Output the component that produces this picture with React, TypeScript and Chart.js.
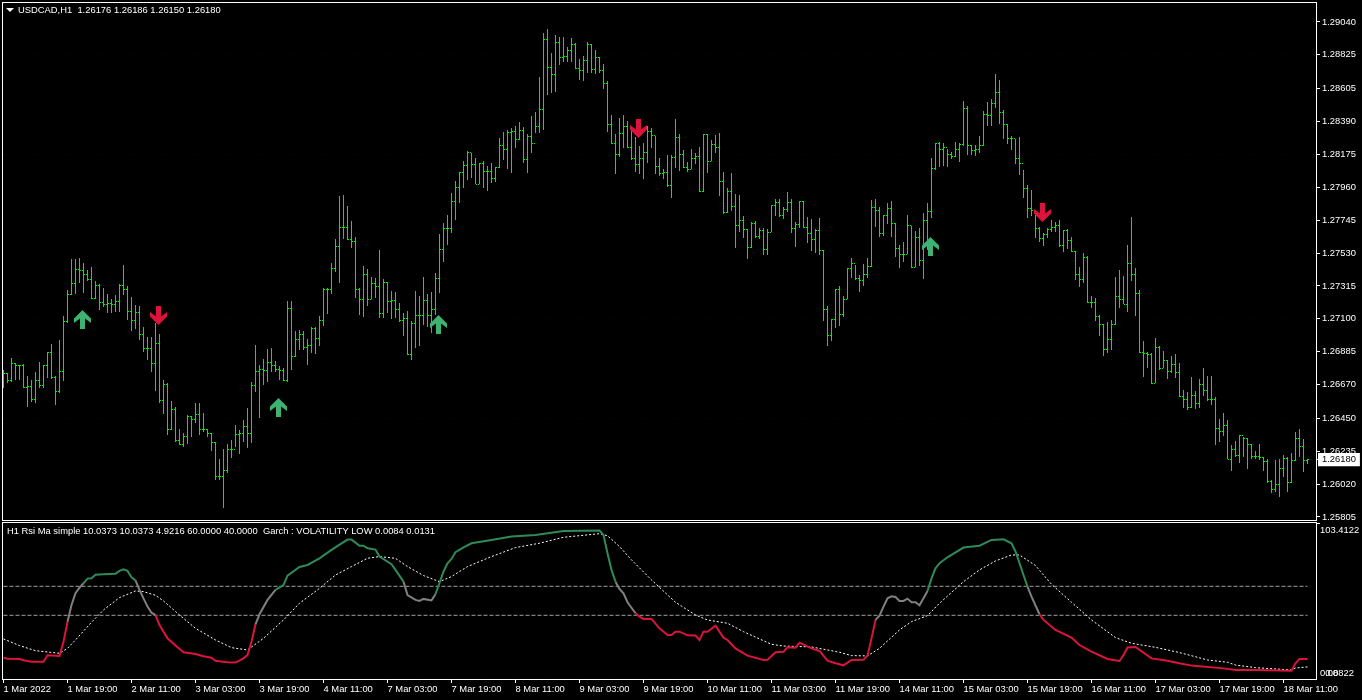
import React, { useEffect, useRef } from "react";
import { Chart, registerables } from "chart.js";

Chart.register(...registerables);

// USDCAD H1 prices, in points (0.00001) above 1.25000, read bar by bar
const PRICE_BASE = 1.25;
const POINT = 0.00001;
const firstOpen = 1750;
const lastBarOpen = 1176;

const highs = [1766,1744,1842,1809,1799,1805,1727,1701,1755,1816,1799,1886,1934,1727,1962,2119,2289,2491,2491,2496,2463,2419,2437,2347,2326,2304,2260,2230,2256,2328,2452,2315,2245,2191,2184,2045,1979,1979,2071,2001,1701,1679,1563,1522,1380,1354,1472,1468,1548,1550,1483,1380,1352,1293,1182,1250,1280,1309,1407,1374,1439,1520,1688,1929,1799,1838,1903,1907,1825,1792,1781,2217,2217,2021,2027,2021,1966,2049,2045,2119,2300,2300,2463,2622,2903,
2910,2838,2740,2633,2300,2446,2426,2376,2365,2550,2359,2343,2282,2274,2202,2136,2152,2086,2282,2250,2374,2263,2274,2398,2655,2724,2779,2920,3001,3058,3132,3197,3182,3149,3116,3132,3101,3116,3095,3284,3323,3334,3345,3360,3389,3352,3308,3426,3450,3683,3970,3994,3835,3955,3944,3944,3874,3938,3901,3796,3818,3907,3896,3857,3813,3763,3657,3432,3308,3415,3432,3395,3334,3291,3230,3247,3360,3350,3295,3153,3079,3171,3171,3406,3306,
3204,3128,3210,3182,3221,3308,3308,3269,3302,3313,3058,2953,3051,2914,2910,2773,2688,2731,2740,2692,2692,2688,2842,2882,2882,2834,2930,2882,2731,2871,2871,2768,2753,2688,2757,2551,2185,2098,2296,2315,2250,2431,2496,2453,2387,2457,2496,2877,2884,2831,2779,2855,2871,2725,2583,2605,2779,2707,2675,2692,2790,2855,3152,3247,3254,3247,3210,3189,3254,3247,3524,3491,3237,3237,3295,3459,3515,3537,3701,3661,3465,3372,3295,3274,3287,
3073,2975,2942,2779,2702,2659,2692,2746,2731,2746,2681,2687,2637,2543,2437,2528,2513,2249,2239,2125,2064,2082,2093,2371,2419,2380,2583,2763,2430,2289,1955,1886,1875,1973,1925,1890,1831,1857,1870,1814,1635,1624,1722,1629,1705,1781,1727,1727,1592,1446,1483,1439,1276,1304,1341,1330,1324,1282,1237,1282,1200,1182,1047,1178,1182,1210,1195,1221,1359,1380,1313,1186];

const lows = [1650,1679,1690,1701,1701,1646,1526,1559,1552,1650,1646,1711,1705,1537,1618,1694,2075,2256,2263,2332,2271,2347,2230,2228,2158,2180,2141,2141,2147,2143,2256,2093,2021,2032,1962,1886,1831,1755,1629,1552,1478,1341,1374,1298,1276,1265,1282,1330,1417,1341,1363,1326,1237,1047,1047,866,1091,1193,1265,1217,1298,1254,1291,1624,1454,1668,1690,1755,1751,1701,1694,1690,1766,1849,1897,1897,1799,1875,1870,1923,2053,2132,2263,2406,2337,
2622,2616,2565,2239,2125,2115,2186,2228,2239,2108,2108,2141,2099,2108,2082,1990,1864,1831,1908,1925,2060,2049,2006,2125,2271,2474,2583,2663,2746,2859,2953,3008,3018,2979,2981,2957,2936,2986,2997,3084,3138,3079,3051,3214,3269,3121,3051,3186,3312,3312,3334,3563,3578,3585,3759,3781,3781,3781,3731,3661,3654,3709,3705,3700,3705,3602,3323,3243,3047,3160,3214,3214,3138,3062,3047,3016,3116,3214,3047,3036,3012,2964,2892,3084,3069,
3084,3058,3078,3112,2927,2927,3056,3132,3182,2906,2784,2790,2808,2566,2670,2627,2492,2561,2627,2622,2518,2518,2666,2773,2764,2751,2801,2664,2572,2692,2696,2594,2546,2533,2514,2089,1925,1958,2043,2056,2115,2228,2370,2355,2278,2315,2365,2437,2703,2638,2642,2720,2633,2507,2435,2474,2522,2431,2437,2448,2361,2551,2762,3073,3095,3099,3095,3143,3160,3128,3230,3171,3171,3167,3187,3230,3363,3363,3476,3372,3274,3241,3204,3110,3041,
2888,2761,2772,2631,2600,2578,2631,2670,2670,2567,2539,2554,2535,2354,2310,2332,2206,2169,2088,1990,1860,1875,1897,2060,2169,2195,2147,2350,2119,1875,1722,1777,1674,1679,1766,1777,1707,1744,1711,1587,1520,1505,1520,1511,1515,1596,1566,1537,1276,1293,1335,1182,1108,1200,1156,1200,1121,1182,1182,1178,1106,1030,960,971,934,1069,971,1030,1173,1200,1102,1150];

const closes = [1744,1694,1809,1796,1794,1650,1661,1570,1694,1664,1792,1881,1716,1624,1759,2082,2256,2332,2424,2413,2391,2354,2230,2321,2208,2197,2202,2191,2212,2317,2295,2151,2086,2141,1995,1903,1903,1805,1940,1566,1672,1378,1509,1304,1280,1330,1461,1439,1476,1374,1378,1348,1293,1069,1069,1106,1248,1248,1341,1348,1396,1352,1664,1755,1770,1762,1814,1794,1770,1762,1696,2169,1853,1962,1995,1914,1925,2038,1973,2086,2295,2293,2430,2576,2700,
2698,2620,2605,2289,2228,2391,2228,2332,2311,2136,2339,2213,2217,2158,2086,2099,1868,2067,2119,2119,2217,2123,2158,2361,2555,2692,2692,2866,2957,3058,3099,3188,3110,2981,3112,3062,3066,3018,3088,3236,3204,3319,3323,3273,3334,3143,3291,3247,3356,3465,3927,3744,3700,3905,3809,3813,3857,3896,3737,3726,3787,3896,3731,3809,3722,3639,3373,3247,3177,3312,3356,3219,3149,3106,3149,3188,3323,3295,3095,3047,3055,2971,3156,3286,3176,
3091,3078,3149,3160,2932,3308,3128,3237,3221,2997,2797,2932,2834,2710,2742,2681,2566,2725,2638,2677,2555,2666,2838,2862,2773,2816,2862,2692,2718,2866,2699,2659,2620,2675,2544,2163,1993,2093,2289,2130,2228,2426,2463,2365,2348,2387,2442,2827,2808,2659,2775,2823,2725,2561,2522,2522,2707,2437,2633,2481,2744,2801,3084,3247,3204,3219,3176,3160,3204,3237,3476,3230,3200,3210,3232,3437,3426,3509,3581,3450,3367,3276,3280,3145,3118,
2953,2822,2807,2692,2626,2652,2685,2698,2713,2578,2676,2615,2539,2391,2354,2502,2208,2208,2114,2060,1897,1962,2064,2249,2228,2195,2463,2387,2267,1881,1875,1864,1679,1914,1777,1825,1755,1799,1748,1592,1570,1522,1596,1548,1668,1629,1570,1576,1385,1363,1402,1182,1243,1204,1337,1319,1282,1200,1200,1193,1167,1034,982,1019,1123,1189,1030,1173,1315,1269,1173,1180];

const signalUp = [[20, 2096], [69, 1522], [109, 2064], [232, 2572]];
const signalDown = [[39, 2123], [159, 3345], [260, 2796]];

const priceTicks = [1.2904,1.28825,1.28605,1.2839,1.28175,1.2796,1.27745,1.2753,1.27315,1.271,1.26885,1.2667,1.2645,1.26235,1.2602,1.25805];
const currentPrice = 1.2618;

const headerText = "USDCAD,H1  1.26176 1.26186 1.26150 1.26180";
const indicatorText = "H1 Rsi Ma simple 10.0373 10.0373 4.9216 60.0000 40.0000  Garch : VOLATILITY LOW 0.0084 0.0131";

const timeLabels = ["1 Mar 2022","1 Mar 19:00","2 Mar 11:00","3 Mar 03:00","3 Mar 19:00","4 Mar 11:00","7 Mar 03:00","7 Mar 19:00","8 Mar 11:00","9 Mar 03:00","9 Mar 19:00","10 Mar 11:00","11 Mar 03:00","11 Mar 19:00","14 Mar 11:00","15 Mar 03:00","15 Mar 19:00","16 Mar 11:00","17 Mar 03:00","17 Mar 19:00","18 Mar 11:00"];

// RSI line, read at its vertices
const rsiBars = [0,1,4,5,7,10,11,14,15,16,17,18,19,20,21,22,23,25,28,29,30,31,32,33,34,35,36,37,38,39,41,43,45,48,50,52,53,56,58,60,61,62,63,64,66,68,70,71,74,76,79,82,86,87,89,90,91,93,94,97,98,100,101,103,104,105,107,108,110,111,
112,113,115,117,122,127,133,140,149,150,151,152,153,154,155,156,158,159,160,162,164,166,167,168,169,171,173,174,175,176,178,180,181,183,186,190,191,193,195,196,198,199,202,204,206,208,210,212,215,216,217,218,219,220,221,222,223,
224,225,226,227,228,229,230,231,232,233,234,236,240,244,247,250,252,253,255,256,257,259,260,263,267,269,272,276,279,280,281,283,287,291,294,297,305,308,313,322,323,324,326];
const rsiValues = [10.8,10.1,9.9,9,8,8,12.4,11.9,21.8,35.6,47.1,55.2,59.1,62.1,65.3,65.5,68,68.3,68.7,70.6,71.7,70.6,66.2,64.1,57.5,51.7,46,41.8,40.2,33.3,24.1,19.1,14.5,13.3,11.7,10.8,8.7,7.6,7.4,10.3,12.6,21.8,33.8,40.7,50.6,57.5,60.9,67.4,73.3,74.7,79.3,85.1,92.2,92.2,88,88,86.2,85.3,80.5,75.2,71.3,63.2,54,50.6,49.9,51.3,50.3,54.5,70.1,75.9,
78.9,83.5,86.9,89.7,92,94.3,95.4,98.2,98.4,95.4,82.8,71.3,63.2,58.2,55.2,49,41.4,39.1,37.5,37.5,31,26.4,26.4,28.7,28.7,26.2,26,23,28.7,28.7,32.9,24.6,23,17.2,12.2,9.2,9.4,14.5,14.9,17.9,17.7,21.1,17.2,15.4,8.7,6.9,5.5,9.2,9.4,12.2,24.1,36.8,39.8,46,51.7,53.1,52.6,
49.9,49.9,51.5,49,49,46.9,51.7,56.8,65.5,72.4,75.9,80,86.7,88,92,92.4,89.7,84,67.8,59.8,52.9,40.7,36.8,29.9,24.6,19.5,14.9,9.9,8.5,12.6,17.8,18.2,10.3,8.7,6.9,5.3,3.4,2.3,2.3,1.8,6.9,9.9,9.9];

// Colour runs of the RSI line: last bar of the run, and its zone
const rsiRunEnds = [16,20,33,38,63,68,100,108,153,158,218,231,256,259,326];
const rsiRunZones = ["low","mid","high","mid","low","mid","high","mid","high","mid","low","mid","high","mid","low"];

// Dotted moving average of the RSI, read at its vertices
const maBars = [0,4,8,14,16,18,22,25,29,33,35,38,40,44,48,53,57,61,65,70,74,79,83,87,91,94,98,101,105,109,
112,116,122,128,134,140,149,151,154,157,162,168,173,176,181,185,192,195,202,209,212,216,219,224,
227,231,234,240,244,248,252,254,258,262,267,272,278,282,288,294,301,306,308,313,322,323,326];
const maValues = [23.7,19.1,15.6,13.8,17.2,23,35.2,43.7,52.2,56.8,56.3,53.8,49.9,40.2,31,23,17.7,16.1,24.1,36.8,48.3,58.6,67.8,73.6,79.3,80.5,79.3,73.6,67.4,63.2,
66.7,73.6,80.5,86.7,89.7,93.8,96.3,94.9,87.4,78.2,64.4,49,40.2,36.8,34.5,28.7,20,18.8,18.2,14.5,12.2,12,17.2,29.9,
35.6,39.8,48.3,63.2,71.3,77.5,81.6,81.6,74.3,61.4,49,36.8,24.6,20.7,17.9,14.3,9.2,7.6,5.7,3.9,2.3,3.7,4.4];

const levels = [60, 40];
const levelBars = [0, 326];
const rsiTopLabel = "103.4122";
const rsiTop = 103.4122;
const rsiBottom = 0.0822;

const FONT = "'Liberation Sans', Arial, sans-serif";
const FONT_SIZE = 9.4;
const LIME = "#00ee00";
const GRID = "#000033";
const TEXT = "#ffffff";
const ZONE_COLOR: Record<string, string> = { low: "#dc143c", mid: "#808080", high: "#2e8b57" };

const price = (p: number) => PRICE_BASE + p * POINT;

function tickMark(side: number) {
  const c = document.createElement("canvas");
  c.width = 5;
  c.height = 1;
  const g = c.getContext("2d")!;
  g.fillStyle = LIME;
  g.fillRect(side < 0 ? 1 : 3, 0, 1, 1);
  return c;
}

function arrowMark(up: boolean, color: string) {
  const c = document.createElement("canvas");
  c.width = 19;
  c.height = 19;
  const g = c.getContext("2d")!;
  if (!up) {
    g.translate(0, 19);
    g.scale(1, -1);
  }
  g.fillStyle = color;
  g.beginPath();
  [[8.5,0],[17,8.5],[17,13],[11,8.5],[11,19],[6,19],[6,8.5],[0,13],[0,8.5]].forEach(([x, y], i) =>
    i ? g.lineTo(x, y) : g.moveTo(x, y));
  g.closePath();
  g.fill();
  return c;
}

// Keeps the 1px bars and their open/close ticks on whole pixels, as the terminal draws them
const snapToPixels = {
  id: "snapToPixels",
  beforeDatasetsDraw(chart: any) {
    chart.getSortedVisibleDatasetMetas().forEach((meta: any) => {
      meta.data.forEach((el: any) => {
        if (meta.type === "bar") {
          el.y = Math.round(el.y);
          el.base = Math.round(el.base);
        } else {
          el.y = Math.floor(el.y) + 0.5;
        }
      });
    });
  },
};

const gridTicks: number[] = [];
for (let b = 0; b < 328; b += 8) gridTicks.push(b);

function xScale(showLabels: boolean) {
  return {
    type: "linear",
    min: -0.125,
    max: 328.125,
    offset: false,
    afterBuildTicks: (s: any) => { s.ticks = gridTicks.map((value) => ({ value })); },
    afterFit: (s: any) => {
      s.height = showLabels ? 21 : 0;
      s.paddingLeft = 0;
      s.paddingRight = 0;
    },
    border: { display: false, dash: [1, 3] },
    grid: {
      color: GRID,
      offset: false,
      drawTicks: showLabels,
      tickLength: 4,
      tickColor: (ctx: any) => (ctx.tick && ctx.tick.value % 16 === 0 ? TEXT : "rgba(0,0,0,0)"),
    },
    ticks: {
      display: showLabels,
      autoSkip: false,
      maxRotation: 0,
      align: "start",
      padding: 1,
      color: TEXT,
      font: { family: FONT, size: FONT_SIZE },
      callback: (v: number) => (v % 16 === 0 ? timeLabels[v / 16] : ""),
    },
  };
}

export default function App() {
  const top = useRef<HTMLCanvasElement>(null);
  const bottom = useRef<HTMLCanvasElement>(null);

  useEffect(() => {
    const barIdx = closes.map((_, i) => i);
    const opens = closes.map((_, i) => (i === 0 ? firstOpen : i === closes.length - 1 ? lastBarOpen : closes[i - 1]));

    const priceChart = new Chart(top.current!, {
      type: "bar",
      plugins: [snapToPixels],
      data: {
        datasets: [
          { type: "line", showLine: false, pointRadius: 1, pointStyle: arrowMark(true, "#3cb371") as any,
            data: signalUp.map(([x, p]) => ({ x, y: price(p) })) },
          { type: "line", showLine: false, pointRadius: 1, pointStyle: arrowMark(false, "#dc143c") as any,
            data: signalDown.map(([x, p]) => ({ x, y: price(p) })) },
          { type: "line", showLine: false, pointRadius: 1, pointStyle: tickMark(-1) as any,
            data: barIdx.map((x) => ({ x, y: price(opens[x]) })) },
          { type: "line", showLine: false, pointRadius: 1, pointStyle: tickMark(1) as any,
            data: barIdx.map((x) => ({ x, y: price(closes[x]) })) },
          { type: "bar", backgroundColor: LIME, borderColor: LIME, borderWidth: 0, barThickness: 1, grouped: false, inflateAmount: 0,
            data: barIdx.map((x) => ({ x, y: [price(lows[x]), price(highs[x])] })) },
        ],
      } as any,
      options: {
        responsive: false,
        animation: false,
        events: [],
        layout: { autoPadding: false, padding: { left: 3, top: 3, right: 0, bottom: 1 } },
        plugins: { legend: { display: false }, title: { display: false }, tooltip: { enabled: false } },
        scales: {
          x: xScale(false),
          y: {
            position: "right",
            min: 1.2904 - (517 - 22) * (0.03235 / 495) - 3 * (0.03235 / 495),
            max: 1.2904 + 19 * (0.03235 / 495),
            afterBuildTicks: (s: any) => { s.ticks = [...priceTicks, currentPrice].map((value) => ({ value })); },
            afterFit: (s: any) => {
              s.width = 46;
              s.paddingTop = 0;
              s.paddingBottom = 0;
            },
            border: { display: false, dash: [1, 3] },
            grid: { color: GRID, tickColor: TEXT, tickLength: 4 },
            ticks: {
              autoSkip: false,
              padding: 2,
              font: { family: FONT, size: FONT_SIZE },
              color: (ctx: any) => (ctx.tick && ctx.tick.value === currentPrice ? "#000000" : TEXT),
              showLabelBackdrop: (ctx: any) => !!ctx.tick && ctx.tick.value === currentPrice,
              backdropColor: "#ffffff",
              backdropPadding: { x: 4, y: 1 },
              callback: (v: number) => v.toFixed(5),
            },
          },
        },
      } as any,
    });

    const zoneAt = (bar: number) => rsiRunZones[rsiRunEnds.findIndex((end) => bar <= end)];

    const rsiChart = new Chart(bottom.current!, {
      type: "line",
      data: {
        datasets: [
          { data: rsiBars.map((x, i) => ({ x, y: rsiValues[i] })), borderWidth: 2, pointRadius: 0, tension: 0,
            borderColor: ZONE_COLOR.low,
            segment: { borderColor: (c: any) => ZONE_COLOR[zoneAt(rsiBars[c.p1DataIndex])] } },
          { data: maBars.map((x, i) => ({ x, y: maValues[i] })), borderWidth: 1, pointRadius: 0, tension: 0,
            borderColor: "#ffffff", borderDash: [2, 2] },
          ...levels.map((lv) => ({ data: levelBars.map((x) => ({ x, y: lv })), borderWidth: 1, pointRadius: 0,
            borderColor: "#a0a0a0", borderDash: [4, 2] })),
        ],
      } as any,
      options: {
        responsive: false,
        animation: false,
        events: [],
        layout: { autoPadding: false, padding: { left: 3, top: 2, right: 0, bottom: 0 } },
        plugins: { legend: { display: false }, title: { display: false }, tooltip: { enabled: false } },
        scales: {
          x: xScale(true),
          y: {
            position: "right",
            min: 40 + (615.3 - 679) / 1.45,
            max: 40 + (615.3 - 523) / 1.45,
            afterBuildTicks: (s: any) => {
              s.ticks = [{ value: rsiTop }, { value: rsiBottom }, { value: rsiBottom + 1e-6 }];
            },
            afterFit: (s: any) => {
              s.width = 46;
              s.paddingTop = 0;
              s.paddingBottom = 0;
            },
            border: { display: false },
            grid: { drawOnChartArea: false, tickLength: 4,
              tickColor: (ctx: any) => (ctx.tick && ctx.tick.value === rsiTop ? TEXT : "rgba(0,0,0,0)") },
            ticks: {
              autoSkip: false,
              padding: 0,
              color: TEXT,
              font: { family: FONT, size: FONT_SIZE, lineHeight: 1.55 },
              callback: (v: number) =>
                v === rsiTop ? ["", rsiTopLabel] : v === rsiBottom ? rsiBottom.toFixed(2) : "  " + rsiBottom.toFixed(4),
            },
          },
        },
      } as any,
    });

    return () => {
      priceChart.destroy();
      rsiChart.destroy();
    };
  }, []);

  const text: React.CSSProperties = {
    position: "absolute",
    color: TEXT,
    font: `${FONT_SIZE}px ${FONT}`,
    whiteSpace: "pre",
    lineHeight: "12px",
  };
  const box = (t: number, h: number): React.CSSProperties => ({
    position: "absolute",
    left: 2,
    top: t,
    width: 1315,
    height: h,
    boxSizing: "border-box",
    border: "1px solid #fff",
    pointerEvents: "none",
  });

  return (
    <div style={{ position: "fixed", left: 0, top: 0, width: 1362, height: 700, background: "#000", overflow: "hidden" }}>
      <canvas ref={top} width={1362} height={521} style={{ position: "absolute", left: 0, top: 0, display: "block" }} />
      <canvas ref={bottom} width={1362} height={179} style={{ position: "absolute", left: 0, top: 521, display: "block" }} />
      <div style={box(2, 519)} />
      <div style={box(522, 158)} />
      <div style={{ position: "absolute", left: 6, top: 8, width: 0, height: 0, borderLeft: "4px solid transparent", borderRight: "4px solid transparent", borderTop: "4px solid #fff" }} />
      <div style={{ ...text, left: 18, top: 4 }}>{headerText}</div>
      <div style={{ ...text, left: 7, top: 525 }}>{indicatorText}</div>
    </div>
  );
}
